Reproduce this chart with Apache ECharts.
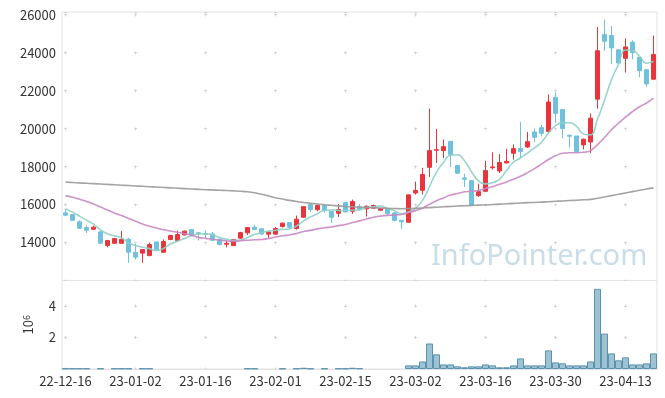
<!DOCTYPE html>
<html>
<head>
<meta charset="utf-8">
<script src="https://cdn.jsdelivr.net/npm/echarts@6/dist/echarts.min.js"></script>
<style>
  html, body { margin: 0; padding: 0; background: #fff; }
  #chart { width: 665px; height: 398px; }
</style>
</head>
<body>
<div id="chart"></div>
<script>
// trading days
const dates = [
  '22-12-16','22-12-19','22-12-20','22-12-21','22-12-22','22-12-23','22-12-26','22-12-27','22-12-28','22-12-29',
  '23-01-02','23-01-03','23-01-04','23-01-05','23-01-06','23-01-09','23-01-10','23-01-11','23-01-12','23-01-13',
  '23-01-16','23-01-17','23-01-18','23-01-19','23-01-20','23-01-25','23-01-26','23-01-27','23-01-30','23-01-31',
  '23-02-01','23-02-02','23-02-03','23-02-06','23-02-07','23-02-08','23-02-09','23-02-10','23-02-13','23-02-14',
  '23-02-15','23-02-16','23-02-17','23-02-20','23-02-21','23-02-22','23-02-23','23-02-24','23-02-27','23-02-28',
  '23-03-02','23-03-03','23-03-06','23-03-07','23-03-08','23-03-09','23-03-10','23-03-13','23-03-14','23-03-15',
  '23-03-16','23-03-17','23-03-20','23-03-21','23-03-22','23-03-23','23-03-24','23-03-27','23-03-28','23-03-29',
  '23-03-30','23-03-31','23-04-03','23-04-04','23-04-05','23-04-06','23-04-07','23-04-10','23-04-11','23-04-12',
  '23-04-13','23-04-14','23-04-17','23-04-18','23-04-19'
];

const openPrices = [
  15560,15470,15090,14790,14700,14560,13840,13960,13960,14170,
  13480,13440,13310,14030,13490,14160,14100,14400,14680,14510,
  14480,14450,14170,13910,13840,14230,14510,14810,14720,14440,
  14440,14840,15050,14740,15330,16000,15730,15950,15630,15540,
  16100,15650,15890,15770,15810,15700,15770,15560,15170,15070,
  16610,16750,17960,18860,18840,19330,18050,17400,17260,16470,
  16700,17940,17770,18190,18700,18950,19030,19820,20050,19850,
  21650,21000,19650,19610,19140,19290,21550,24950,24900,24150,
  23700,24550,23750,23100,22600
];
const closePrices = [
  15440,15170,14750,14650,14810,13960,14100,14210,14170,13490,
  13230,13630,13890,13630,14050,14370,14420,14600,14370,14470,
  14440,14120,13890,13960,14160,14520,14790,14680,14450,14560,
  14740,15020,14810,15230,15890,15730,15950,15680,15330,15740,
  15610,16160,15770,15910,15950,15790,15520,15170,15090,16510,
  16740,17580,18840,18890,19050,18630,17650,17330,15960,16680,
  17790,17980,18210,18280,18950,18800,19310,19540,19750,21400,
  20800,20000,19600,18790,19440,20550,24100,24600,24250,23450,
  24300,24000,23050,22350,23900
];
const lowPrices = [
  15390,15140,14720,14510,14670,13930,13750,13930,13930,12930,
  13100,12930,13280,13560,13450,14120,14070,14370,14340,14110,
  14210,14090,13860,13750,13840,14190,14400,14650,14400,14190,
  14420,14790,14750,14680,15300,15610,15650,15560,15030,15350,
  15580,15510,15700,15370,15770,15660,15420,15120,14720,15030,
  16520,16520,17450,18190,18450,17980,17630,16930,15960,16400,
  16650,17840,17660,18170,18370,18470,18980,19290,19590,19730,
  20300,19490,19000,18730,18910,18700,21050,24100,23400,23400,
  22950,23650,22700,22200,22600
];
const highPrices = [
  15770,15500,15160,14930,14880,14630,14140,14240,14610,14240,
  13930,13630,14000,14030,14160,14400,14630,14630,14680,14560,
  14630,14560,14210,14070,14160,14560,14790,14930,14750,14610,
  14810,15050,15070,15420,15910,16000,16000,16000,15630,16030,
  16100,16260,16030,15960,16000,15820,15790,15600,15170,16510,
  17210,17930,21050,19980,19420,19330,18090,17630,17260,17100,
  18310,18750,18660,18940,19170,20350,19820,20000,20200,21800,
  21900,21000,19680,19610,19470,20800,25350,25750,25400,24150,
  24750,24650,23750,23150,24900
];

// moving averages as drawn
const ma5 = [
  15770,15600,15390,15180,14970,14670,14460,14350,14250,13990,
  13840,13750,13680,13580,13690,13920,14070,14210,14360,14450,
  14460,14400,14260,14180,14120,14130,14270,14420,14520,14600,
  14650,14690,14720,14870,15140,15340,15520,15700,15720,15690,
  15670,15710,15720,15840,15880,15920,15790,15670,15510,15620,
  15810,16220,16950,17710,18220,18600,18620,18310,17730,17250,
  17090,17150,17330,17790,18240,18450,18710,18980,19280,19770,
  20160,20300,20310,20120,19720,19670,20490,21490,22580,23380,
  24140,24110,23810,23440,23530
];
const ma20 = [
  16470,16380,16280,16160,16030,15870,15710,15560,15420,15270,
  15120,14980,14860,14760,14670,14610,14540,14470,14390,14270,
  14220,14170,14130,14090,14060,14090,14120,14150,14160,14210,
  14290,14360,14400,14480,14580,14640,14720,14780,14820,14890,
  14950,15050,15140,15240,15330,15390,15430,15450,15480,15580,
  15680,15810,16010,16200,16350,16500,16580,16670,16700,16740,
  16850,16940,17070,17190,17330,17490,17680,17890,18130,18370,
  18570,18700,18730,18730,18750,18840,19160,19530,19940,20280,
  20600,20900,21150,21350,21600
];
const ma120 = [
  17180,17160,17140,17120,17100,17080,17060,17040,17020,17000,
  16980,16960,16940,16920,16900,16880,16860,16840,16820,16800,
  16780,16770,16750,16740,16720,16700,16670,16620,16540,16450,
  16360,16290,16220,16160,16110,16070,16030,15990,15960,15930,
  15900,15880,15860,15850,15830,15820,15800,15790,15780,15790,
  15800,15820,15840,15860,15880,15900,15920,15940,15950,15970,
  15980,16000,16020,16040,16060,16080,16100,16110,16130,16150,
  16170,16190,16210,16230,16250,16270,16330,16400,16470,16540,
  16610,16680,16750,16820,16880
];

const volumes = [
  30000,30000,30000,30000,'-',30000,'-',30000,30000,30000,
  '-',30000,30000,'-','-','-','-','-','-','-',
  '-','-','-','-','-','-',30000,30000,'-','-',
  '-',30000,'-',30000,80000,30000,'-',30000,'-',30000,
  30000,80000,40000,'-','-','-','-','-','-',230000,
  230000,480000,1620000,930000,290000,290000,170000,110000,170000,170000,
  290000,230000,110000,110000,230000,670000,230000,230000,230000,1180000,
  420000,360000,230000,230000,230000,480000,5090000,2250000,990000,550000,
  740000,290000,290000,360000,990000
];

var chartDom = document.getElementById('chart');
var myChart = echarts.init(chartDom);
var option;

const fontFamily = '"Noto Sans CJK KR", "Noto Sans", sans-serif';
const candles = dates.map(function (d, i) {
  return [openPrices[i], closePrices[i], lowPrices[i], highPrices[i]];
});

const upColor = '#e8353b';
const downColor = '#6fc1dc';
const crossColor = '#d4d4d4';

option = {
  animation: false,
  backgroundColor: '#fff',
  graphic: [
    {
      type: 'text',
      left: 431,
      top: 242,
      z: 0,
      style: {
        text: 'InfoPointer.com',
        font: '29px "Noto Sans", sans-serif',
        fill: '#c9dde8'
      }
    }
  ],
  grid: [
    { left: 62, right: 8, top: 12, height: 268.5, show: true, borderColor: '#e3e3e3', borderWidth: 1 },
    { left: 62, right: 8, top: 280.5, height: 88.5, show: true, borderColor: '#e3e3e3', borderWidth: 1 }
  ],
  xAxis: [
    {
      type: 'category',
      gridIndex: 0,
      data: dates,
      boundaryGap: true,
      axisLine: { show: false },
      axisTick: { show: false },
      axisLabel: { show: false, interval: 9 },
      splitLine: {
        show: true,
        interval: 9,
        alignWithLabel: true,
        lineStyle: { color: crossColor, width: 1, type: [3, 35], dashOffset: 36.5 }
      }
    },
    {
      type: 'category',
      gridIndex: 1,
      data: dates,
      boundaryGap: true,
      axisLine: { show: true, lineStyle: { color: '#e3e3e3' } },
      axisTick: { show: false },
      axisLabel: { interval: 9, color: '#333', fontSize: 13, margin: 6, fontFamily: fontFamily },
      splitLine: {
        show: true,
        interval: 9,
        alignWithLabel: true,
        lineStyle: { color: crossColor, width: 1, type: [3, 28.5], dashOffset: 7.5 }
      }
    }
  ],
  yAxis: [
    {
      type: 'value',
      gridIndex: 0,
      min: 12000,
      max: 26140,
      interval: 2000,
      axisLine: { show: false },
      axisTick: { show: false },
      axisLabel: {
        color: '#333', fontSize: 13, margin: 6, fontFamily: fontFamily,
        showMinLabel: false, showMaxLabel: false,
        formatter: function (v) { return String(v); }
      },
      splitLine: { show: true, lineStyle: { color: crossColor, width: 1, type: [3, 67], dashOffset: 68 } }
    },
    {
      type: 'value',
      gridIndex: 1,
      min: 0,
      max: 5620000,
      interval: 2000000,
      name: '10{s|6}',
      nameLocation: 'middle',
      nameRotate: 90,
      nameGap: 27,
      nameTextStyle: {
        color: '#333', fontSize: 13, fontFamily: fontFamily,
        rich: { s: { fontSize: 9, verticalAlign: 'top', color: '#333', fontFamily: fontFamily } }
      },
      axisLine: { show: false },
      axisTick: { show: false },
      axisLabel: {
        color: '#333', fontSize: 13, margin: 6, fontFamily: fontFamily,
        showMinLabel: false, showMaxLabel: false,
        formatter: function (v) { return String(v / 1000000); }
      },
      splitLine: { show: true, lineStyle: { color: crossColor, width: 1, type: [3, 67], dashOffset: 68 } }
    }
  ],
  series: [
    {
      name: 'price',
      type: 'candlestick',
      xAxisIndex: 0,
      yAxisIndex: 0,
      data: candles,
      barWidth: 4,
      itemStyle: {
        color: upColor,
        color0: downColor,
        borderColor: upColor,
        borderColor0: downColor,
        borderWidth: 1
      },
      z: 2
    },
    {
      name: 'MA5',
      type: 'line',
      xAxisIndex: 0,
      yAxisIndex: 0,
      data: ma5,
      smooth: true,
      showSymbol: false,
      lineStyle: { color: '#8fcfc7', width: 1.6, opacity: 0.9 },
      z: 3
    },
    {
      name: 'MA20',
      type: 'line',
      xAxisIndex: 0,
      yAxisIndex: 0,
      data: ma20,
      smooth: true,
      showSymbol: false,
      lineStyle: { color: '#c987c4', width: 1.6, opacity: 0.9 },
      z: 3
    },
    {
      name: 'MA120',
      type: 'line',
      xAxisIndex: 0,
      yAxisIndex: 0,
      data: ma120,
      smooth: true,
      showSymbol: false,
      lineStyle: { color: '#9a9a9a', width: 1.6, opacity: 0.9 },
      z: 3
    },
    {
      name: 'volume',
      type: 'bar',
      xAxisIndex: 1,
      yAxisIndex: 1,
      data: volumes,
      barWidth: '100%',
      itemStyle: { color: '#9cc2d4', borderColor: '#5b93ae', borderWidth: 1 }
    }
  ]
};

option && myChart.setOption(option);
</script>
</body>
</html>
